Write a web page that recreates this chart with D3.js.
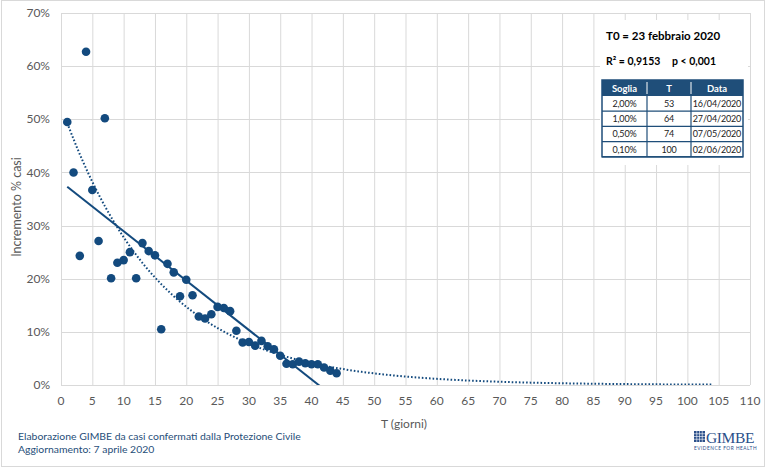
<!DOCTYPE html>
<html>
<head>
<meta charset="utf-8">
<script src="https://cdnjs.cloudflare.com/ajax/libs/d3/7.8.5/d3.min.js"></script>
<style>
  body { margin: 0; background: #fff; }
  svg { display: block; font-family: Lato, "Open Sans", sans-serif; }
</style>
</head>
<body>
<div id="chart"></div>
<script>
// daily % increase of cases, T = days since 23 Feb 2020
const days = d3.range(1, 45);
const increments = [
  49.5, 40.0, 24.3, 62.7, 36.7, 27.1, 50.2, 20.1, 23.0, 23.5,
  25.0, 20.1, 26.7, 25.2, 24.4, 10.5, 22.8, 21.2, 16.7, 19.8,
  16.9, 12.9, 12.5, 13.3, 14.7, 14.5, 13.9, 10.2, 8.0, 8.1,
  7.4, 8.3, 7.3, 6.7, 5.5, 4.0, 3.9, 4.4, 4.1, 3.9,
  3.9, 3.3, 2.7, 2.2
];
const xTicks = d3.range(0, 111, 5);
const yTicks = d3.range(0, 0.71, 0.1);

const tableHead = ["Soglia", "T", "Data"];
const tableRows = [
  ["2,00%", "53", "16/04/2020"],
  ["1,00%", "64", "27/04/2020"],
  ["0,50%", "74", "07/05/2020"],
  ["0,10%", "100", "02/06/2020"]
];
const forecastEnd = 104;

const W = 767, H = 468;
const blue = "#134a7e";
const grey = "#595959";

const svg = d3.select("#chart").append("svg")
  .attr("width", W).attr("height", H);

svg.append("rect")
  .attr("x", 1.5).attr("y", 0.5)
  .attr("width", 763).attr("height", 466)
  .attr("fill", "#fff").attr("stroke", "#d9d9d9");

const x = d3.scaleLinear().domain([0, 110]).range([61, 750]);
const y = d3.scaleLinear().domain([0, 0.7]).range([385, 13]);

// gridlines
svg.append("g")
  .selectAll("line")
  .data(xTicks)
  .enter()
  .append("line")
  .attr("x1", (d) => x(d) + 0.5).attr("x2", (d) => x(d) + 0.5)
  .attr("y1", y(0.7)).attr("y2", y(0))
  .attr("stroke", "#d9d9d9");
svg.append("g")
  .selectAll("line")
  .data(yTicks)
  .enter()
  .append("line")
  .attr("x1", x(0)).attr("x2", x(110))
  .attr("y1", (d) => Math.round(y(d)) + 0.5).attr("y2", (d) => Math.round(y(d)) + 0.5)
  .attr("stroke", "#d9d9d9");

// tick labels
svg.append("g")
  .selectAll("text")
  .data(yTicks)
  .enter()
  .append("text")
  .text((d) => Math.round(d * 100) + "%")
  .attr("x", 50)
  .attr("y", (d) => y(d))
  .attr("dy", "0.35em")
  .attr("text-anchor", "end")
  .attr("font-size", 12)
  .attr("fill", grey);
svg.append("g")
  .selectAll("text")
  .data(xTicks)
  .enter()
  .append("text")
  .text((d) => d)
  .attr("x", (d) => x(d))
  .attr("y", 405)
  .attr("text-anchor", "middle")
  .attr("font-size", 12)
  .attr("fill", grey);

svg.append("text")
  .text("T (giorni)")
  .attr("x", 404).attr("y", 428)
  .attr("text-anchor", "middle")
  .attr("font-size", 12)
  .attr("fill", grey);
svg.append("text")
  .text("Incremento % casi")
  .attr("transform", "translate(21,207) rotate(-90)")
  .attr("text-anchor", "middle")
  .attr("font-size", 12.5)
  .attr("fill", grey);

// trendlines (least squares on the points)
const pts = days.map((d, i) => ({ t: d, v: increments[i] / 100 }));
const mt = d3.mean(pts, (p) => p.t);
const mv = d3.mean(pts, (p) => p.v);
const ml = d3.mean(pts, (p) => Math.log(p.v));
const sxx = d3.sum(pts, (p) => (p.t - mt) ** 2);
const slope = d3.sum(pts, (p) => (p.t - mt) * (p.v - mv)) / sxx;
const icpt = mv - slope * mt;
const eb = d3.sum(pts, (p) => (p.t - mt) * (Math.log(p.v) - ml)) / sxx;
const ea = ml - eb * mt;

svg.append("clipPath").attr("id", "plot")
  .append("rect")
  .attr("x", x(0)).attr("y", y(0.7))
  .attr("width", x(110) - x(0)).attr("height", y(0) - y(0.7));

const tGrid = d3.range(1, forecastEnd + 0.01, 0.5);
const line = d3.line().x((d) => x(d[0])).y((d) => y(d[1]));

svg.append("path")
  .attr("clip-path", "url(#plot)")
  .attr("d", line(tGrid.map((t) => [t, Math.exp(ea + eb * t)])))
  .attr("fill", "none")
  .attr("stroke", blue)
  .attr("stroke-width", 2)
  .attr("stroke-dasharray", "1.6,2");

svg.append("path")
  .attr("clip-path", "url(#plot)")
  .attr("d", line([[1, icpt + slope], [forecastEnd, icpt + slope * forecastEnd]]))
  .attr("fill", "none")
  .attr("stroke", blue)
  .attr("stroke-width", 2);

svg.append("g")
  .selectAll("circle")
  .data(pts)
  .enter()
  .append("circle")
  .attr("cx", (d) => x(d.t))
  .attr("cy", (d) => y(d.v))
  .attr("r", 4.3)
  .attr("fill", blue);

// info box
const box = svg.append("g");
box.append("rect")
  .attr("x", 600).attr("y", 20).attr("width", 148).attr("height", 145)
  .attr("fill", "#fff");
box.append("text")
  .text("T0 = 23 febbraio 2020")
  .attr("x", 606).attr("y", 40)
  .attr("font-size", 11.5).attr("font-weight", "bold").attr("fill", "#000");
box.append("text")
  .attr("x", 606).attr("y", 65)
  .attr("font-size", 10.5).attr("font-weight", "bold").attr("fill", "#000")
  .text("R² = 0,9153");
box.append("text")
  .attr("x", 672).attr("y", 65)
  .attr("font-size", 10.5).attr("font-weight", "bold").attr("fill", "#000")
  .text("p < 0,001");

const colX = [602, 647, 691, 743];
const rowH = 15.2, headH = 16, tTop = 80;
box.append("rect")
  .attr("x", colX[0]).attr("y", tTop)
  .attr("width", colX[3] - colX[0]).attr("height", headH)
  .attr("fill", "#1f4e79");
tableHead.forEach((h, j) => {
  box.append("text")
    .text(h)
    .attr("x", (colX[j] + colX[j + 1]) / 2).attr("y", tTop + 11.5)
    .attr("text-anchor", "middle")
    .attr("font-size", 9.5).attr("font-weight", "bold").attr("fill", "#fff");
});
tableRows.forEach((r, i) => {
  r.forEach((c, j) => {
    box.append("text")
      .text(c)
      .attr("x", (colX[j] + colX[j + 1]) / 2)
      .attr("y", tTop + headH + rowH * i + 11)
      .attr("text-anchor", "middle")
      .attr("font-size", 9).attr("letter-spacing", -0.15).attr("fill", "#222");
  });
  box.append("line")
    .attr("x1", colX[0]).attr("x2", colX[3])
    .attr("y1", tTop + headH + rowH * (i + 1)).attr("y2", tTop + headH + rowH * (i + 1))
    .attr("stroke", "#1f4e79").attr("stroke-width", 1.2);
});
[1, 2].forEach((j) => {
  box.append("line")
    .attr("x1", colX[j]).attr("x2", colX[j])
    .attr("y1", tTop + 2).attr("y2", tTop + headH - 2)
    .attr("stroke", "#fff").attr("stroke-width", 1);
  box.append("line")
    .attr("x1", colX[j]).attr("x2", colX[j])
    .attr("y1", tTop + headH).attr("y2", tTop + headH + rowH * 4)
    .attr("stroke", "#1f4e79").attr("stroke-width", 1.2);
});
box.append("rect")
  .attr("x", colX[0]).attr("y", tTop)
  .attr("width", colX[3] - colX[0]).attr("height", headH + rowH * 4)
  .attr("fill", "none").attr("stroke", "#1f4e79").attr("stroke-width", 1.5);

// footer
svg.append("text")
  .attr("x", 18).attr("y", 440)
  .attr("font-size", 10.4).attr("fill", "#1f4e79")
  .text("Elaborazione GIMBE da casi confermati dalla Protezione Civile");
svg.append("text")
  .attr("x", 18).attr("y", 453)
  .attr("font-size", 10.4).attr("fill", "#1f4e79")
  .text("Aggiornamento: 7 aprile 2020");

// logo
const logo = svg.append("g").attr("transform", "translate(694,431)");
logo.append("rect").attr("width", 11).attr("height", 11).attr("fill", "#2b4f8a");
d3.range(1, 4).forEach((k) => {
  logo.append("line").attr("x1", k * 2.75).attr("x2", k * 2.75).attr("y1", 0).attr("y2", 11)
    .attr("stroke", "#fff").attr("stroke-width", 0.6);
  logo.append("line").attr("y1", k * 2.75).attr("y2", k * 2.75).attr("x1", 0).attr("x2", 11)
    .attr("stroke", "#fff").attr("stroke-width", 0.6);
});
logo.append("text")
  .text("GIMBE")
  .attr("x", 12).attr("y", 11.5)
  .attr("font-family", "Liberation Serif, serif")
  .attr("font-size", 15.5).attr("letter-spacing", -0.4).attr("fill", "#2b4f8a");
logo.append("text")
  .text("EVIDENCE FOR HEALTH")
  .attr("x", 0).attr("y", 18.5)
  .attr("font-size", 4.8).attr("letter-spacing", 0.5).attr("fill", "#2b4f8a");
</script>
</body>
</html>
